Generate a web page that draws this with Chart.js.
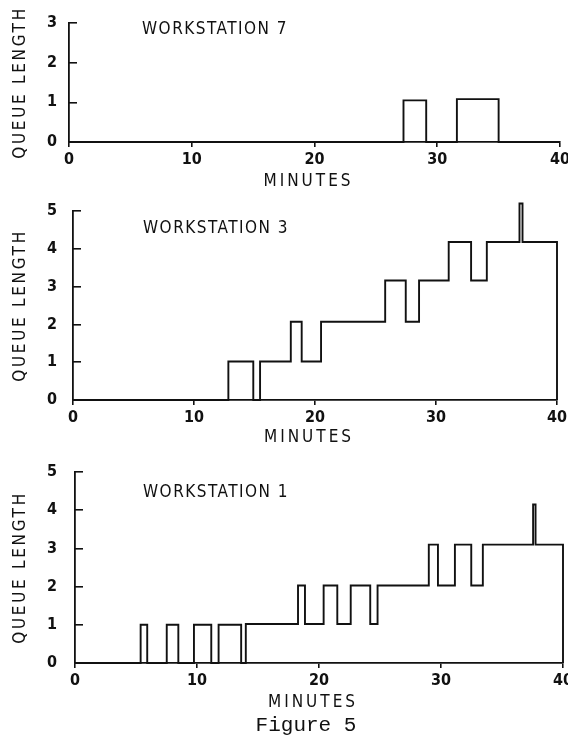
<!DOCTYPE html>
<html>
<head>
<meta charset="utf-8">
<title>Figure 5</title>
<script src="https://cdn.jsdelivr.net/npm/chart.js@4.4.1/dist/chart.umd.min.js"></script>
<style>
  html, body { margin: 0; padding: 0; background: #fff; }
  #page { position: relative; width: 568px; height: 738px; overflow: hidden; background: #fff; }
  canvas { position: absolute; left: 0; }
  #caption {
    position: absolute; left: 0; width: 612px; top: 714px;
    text-align: center; color: #111;
    font: 21px "Liberation Mono", "DejaVu Sans Mono", monospace;
    line-height: 24px;
  }
</style>
</head>
<body>
<div id="page">
  <canvas id="ws7" width="568" height="195" style="top:0px"></canvas>
  <canvas id="ws3" width="568" height="255" style="top:195px"></canvas>
  <canvas id="ws1" width="568" height="265" style="top:450px"></canvas>
  <div id="caption">Figure 5</div>
</div>

<script>
/* =========================
   DATA (step changes: minute -> queue length from then on)
========================= */

const minuteTicks = [0, 10, 20, 30, 40];

const ws7Minutes = [0, 27.25, 29.1, 31.6, 35.0, 40];
const ws7Queue   = [0, 1.05, 0, 1.08, 0, 0];

const ws3Minutes = [0, 12.84, 14.9, 15.46, 18.0, 18.9, 20.5, 25.8, 27.5, 28.6, 31.05, 32.9, 34.2, 36.9, 37.15, 40];
const ws3Queue   = [0, 1.02, 0, 1.02, 2.07, 1.02, 2.07, 3.16, 2.07, 3.16, 4.18, 3.16, 4.18, 5.2, 4.18, 0];

const ws1Minutes = [0, 5.38, 5.92, 7.52, 8.47, 9.75, 11.17, 11.77, 13.62, 14.0, 18.28, 18.85, 20.38, 21.5, 22.6, 24.2, 24.8, 29.0, 29.75, 31.14, 32.48, 33.43, 37.55, 37.75, 40];
const ws1Queue   = [0, 1, 0, 1, 0, 1, 0, 1, 0, 1.02, 2.03, 1.02, 2.03, 1.02, 2.03, 1.02, 2.03, 3.1, 2.03, 3.1, 2.03, 3.1, 4.15, 3.1, 0];


/* =========================
   STYLE
========================= */

const ink = '#111';
const condensed = '"DejaVu Sans Condensed", "Liberation Sans Narrow", "DejaVu Sans", sans-serif';
const tickFont = { family: condensed, size: 16, weight: 'bold' };


/* =========================
   TEXT PLUGIN (station name, axis names)
========================= */

const stationText = {
    id: 'stationText',

    afterDraw(chart, args, opts) {
        const { ctx, chartArea: a } = chart;

        ctx.save();
        ctx.fillStyle = ink;
        ctx.textBaseline = 'middle';

        // station name
        ctx.font = '17px ' + condensed;
        ctx.letterSpacing = '1.5px';
        ctx.textAlign = 'left';
        ctx.fillText(opts.label, opts.labelX, opts.labelY);

        // x axis name
        ctx.letterSpacing = '3px';
        ctx.textAlign = 'center';
        ctx.fillText('MINUTES', (a.left + a.right) / 2 - 6, a.bottom + opts.minutesDy);

        // y axis name
        ctx.letterSpacing = '2.7px';
        ctx.translate(21, (a.top + a.bottom) / 2);
        ctx.rotate(-Math.PI / 2);
        ctx.fillText('QUEUE LENGTH', 0, 0);

        ctx.restore();
    }
};


/* =========================
   CHART FACTORY
========================= */

function makeChart(id, minutes, queue, cfg) {

    const points = minutes.map((m, i) => ({ x: m, y: queue[i] }));

    return new Chart(document.getElementById(id), {
        type: 'line',
        data: {
            datasets: [{
                data: points,
                stepped: true,
                borderColor: ink,
                borderWidth: 1.9,
                pointRadius: 0,
                fill: false,
                clip: false
            }]
        },
        options: {
            responsive: false,
            animation: false,
            layout: {
                padding: { left: 0, right: cfg.padRight, top: cfg.padTop, bottom: cfg.padBottom }
            },
            plugins: {
                legend: { display: false },
                tooltip: { enabled: false },
                stationText: {
                    label: cfg.label,
                    labelX: cfg.labelX,
                    labelY: cfg.labelY,
                    minutesDy: cfg.minutesDy
                }
            },
            scales: {
                x: {
                    type: 'linear',
                    min: minuteTicks[0],
                    max: minuteTicks[minuteTicks.length - 1],
                    afterFit: s => { s.height = 30; s.paddingLeft = 0; s.paddingRight = 0; },
                    afterBuildTicks: s => { s.ticks = minuteTicks.map(v => ({ value: v })); },
                    ticks: { color: ink, font: tickFont, padding: 3, maxRotation: 0 },
                    grid: { drawOnChartArea: false, tickLength: 5, color: ink, lineWidth: 1.6 },
                    border: { color: ink, width: 1.8 }
                },
                y: {
                    min: 0,
                    max: cfg.yMax,
                    afterFit: s => { s.width = cfg.axisX; s.paddingTop = 0; s.paddingBottom = 0; },
                    ticks: { stepSize: 1, color: ink, font: tickFont, padding: cfg.axisX - 57 + 8 },
                    grid: { drawOnChartArea: false, tickLength: -8, color: ink, lineWidth: 1.6 },
                    border: { color: ink, width: 1.8 }
                }
            }
        },
        plugins: [stationText]
    });
}


/* =========================
   INIT
========================= */

makeChart('ws7', ws7Minutes, ws7Queue, {
    label: 'WORKSTATION 7', labelX: 142, labelY: 30,
    yMax: 3, axisX: 69, padTop: 23, padRight: 8, padBottom: 23, minutesDy: 40
});

makeChart('ws3', ws3Minutes, ws3Queue, {
    label: 'WORKSTATION 3', labelX: 143, labelY: 34,
    yMax: 5, axisX: 73, padTop: 16, padRight: 11, padBottom: 20, minutesDy: 38
});

makeChart('ws1', ws1Minutes, ws1Queue, {
    label: 'WORKSTATION 1', labelX: 143, labelY: 43,
    yMax: 5, axisX: 75, padTop: 22, padRight: 5, padBottom: 22, minutesDy: 40
});
</script>
</body>
</html>
